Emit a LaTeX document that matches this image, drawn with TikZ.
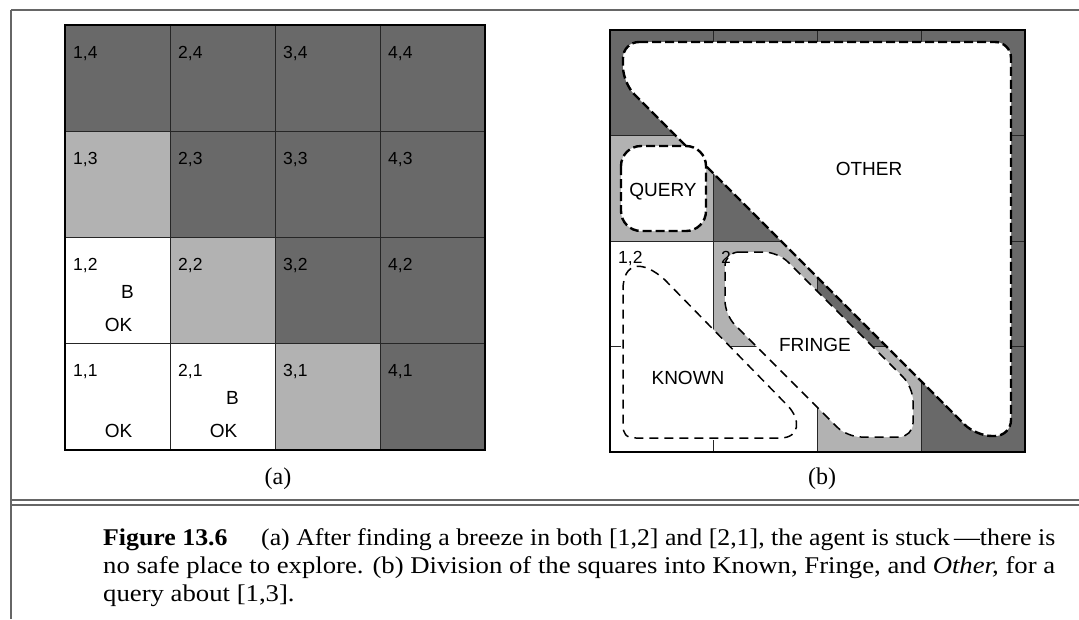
\documentclass[tikz,border=0pt]{standalone}
\usepackage{fontspec}
\setmainfont{Liberation Serif}
\newfontfamily\lblfont{Liberation Sans}
\usepackage{graphicx}
\definecolor{darkc}{gray}{0.41}
\definecolor{lightc}{gray}{0.70}
\definecolor{framec}{gray}{0.40}
\newlength\capw
\tikzset{
  cellnum/.style={font=\lblfont\fontsize{17.5}{18}\selectfont, anchor=base west, inner sep=0pt},
  cellmark/.style={font=\lblfont\fontsize{19}{19}\selectfont, anchor=base, inner sep=0pt},
  region/.style={font=\lblfont\fontsize{19}{19}\selectfont, inner sep=0pt},
  sublabel/.style={font=\fontsize{24}{24}\selectfont, inner sep=0pt},
  captext/.style={anchor=base west, inner sep=0pt},
  gridline/.style={draw=black!85, line width=0.8pt},
  outerline/.style={draw=black, line width=1.8pt},
  framerule/.style={draw=framec, line width=1.3pt},
  bigdash/.style={draw=black, line width=2.4pt, dash pattern=on 9pt off 4pt, fill=white},
  smalldash/.style={draw=black, line width=1.5pt, dash pattern=on 9pt off 6pt, fill=white},
}
\begin{document}
\settowidth{\capw}{\fontsize{24}{28}\selectfont no safe place to explore. (b) Division of the squares into Known, Fringe, and \textit{Other,} for a}
\pgfmathsetmacro\capscale{952/\capw}
\begin{tikzpicture}[x=1pt,y=-1pt]
\useasboundingbox (0,0) rectangle (1079,619);
% frame
\draw[framerule] (11,10) -- (1079,10);
\draw[framerule] (11,10) -- (11,619);
\draw[framerule] (11,500) -- (1079,500);
\draw[framerule] (11,505) -- (1079,505);
% cells
\foreach \i/\j/\c in {1/4/darkc,2/4/darkc,3/4/darkc,4/4/darkc,1/3/lightc,2/3/darkc,3/3/darkc,4/3/darkc,1/2/white,2/2/lightc,3/2/darkc,4/2/darkc,1/1/white,2/1/white,3/1/lightc,4/1/darkc}{
  \fill[\c] ({65+105*(\i-1)},{25+106.25*(4-\j)}) rectangle ++(105,106.25);
  \fill[\c] ({610+103.75*(\i-1)},{30+105.5*(4-\j)}) rectangle ++(103.75,105.5);
}
% (a) grid
\foreach \x in {170,275,380} \draw[gridline] (\x,25) -- (\x,450);
\foreach \y in {131.25,237.5,343.75} \draw[gridline] (65,\y) -- (485,\y);
\draw[outerline] (65,25) rectangle (485,450);
\foreach \i/\j in {1/4,2/4,3/4,4/4,1/3,2/3,3/3,4/3,1/2,2/2,3/2,4/2,1/1,2/1,3/1,4/1}
  \node[cellnum] (a\i\j) at ({73+105*(\i-1)},{58+106.25*(4-\j)}) {\i,\j};
\node[cellmark] (aB12) at (127.5,298.5) {B};
\node[cellmark] (aOK12) at (118.5,331.5) {OK};
\node[cellmark] (aB21) at (232.5,404.75) {B};
\node[cellmark] (aOK11) at (118.5,437.75) {OK};
\node[cellmark] (aOK21) at (223.5,437.75) {OK};
\node[sublabel] (suba) at (278,479) {(a)};
% (b) grid
\draw[gridline] (713.75,30) -- (713.75,346.5);
\draw[gridline] (817.5,30) -- (817.5,452);
\draw[gridline] (921.25,30) -- (921.25,452);
\draw[gridline] (610,135.5) -- (1025,135.5);
\draw[gridline] (610,241) -- (1025,241);
\draw[gridline] (713.75,346.5) -- (1025,346.5);
\draw[gridline] (610,346.5) -- (621,346.5);
\draw[gridline] (713.75,440) -- (713.75,452);
% regions
\draw[smalldash, rounded corners=14pt] (725,252) -- (778,252) -- (913,387) -- (913,437) -- (847,437) -- (725,315) -- cycle;
\draw[smalldash] (623,290) .. controls (623,262) and (642,259) .. (665,280) -- (788,406) .. controls (801,420) and (800,438) .. (780,438) -- (636,438) .. controls (626,438) and (623,434) .. (623,425) -- cycle;
\draw[bigdash, rounded corners=16pt] (623,42) -- (1011,42) -- (1011,436) -- (976,436) -- (623,83) -- cycle;
\draw[bigdash, rounded corners=20pt] (621,146) rectangle (706,231);
\draw[outerline] (610,30) rectangle (1025,452);
\node[cellnum] (b12) at (618,263) {1,2};
\node[cellnum] (b22) at (721,263) {2};
\node[region] (query) at (663,192) {QUERY};
\node[region] (other) at (869,169) {OTHER};
\node[region] (fringe) at (815,345) {FRINGE};
\node[region] (known) at (688,378) {KNOWN};
\node[sublabel] (subb) at (822,479) {(b)};
% caption
\node[captext] (cap1) at (103,545) {\resizebox{952pt}{\height}{\fontsize{24}{28}\selectfont\textbf{Figure 13.6}\hspace{1.3em}(a) After finding a breeze in both [1,2] and [2,1], the agent is stuck\,---there is}};
\node[captext] (cap2) at (103,573) {\resizebox{952pt}{\height}{\fontsize{24}{28}\selectfont no safe place to explore. (b) Division of the squares into Known, Fringe, and \textit{Other,} for a}};
\node[captext] (cap3) at (103,601) {\scalebox{\capscale}[1]{\fontsize{24}{28}\selectfont query about [1,3].}};
\end{tikzpicture}
\end{document}
